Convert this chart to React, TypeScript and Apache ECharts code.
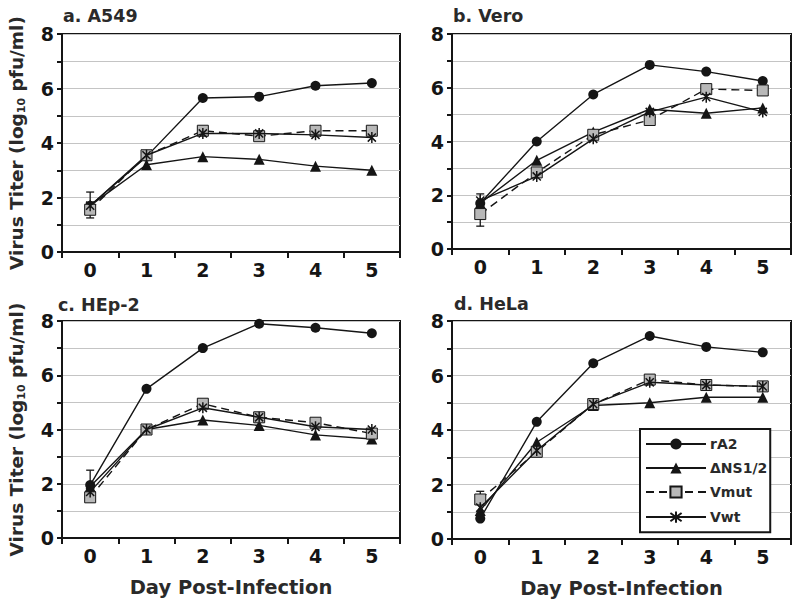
import React, { useEffect, useRef } from 'react';
import * as echarts from 'echarts';

const days = ['0', '1', '2', '3', '4', '5'];
const seriesNames = ['rA2', 'ΔNS1/2', 'Vmut', 'Vwt'];
const panelTitles = ['a. A549', 'b. Vero', 'c. HEp-2', 'd. HeLa'];

// a. A549
const a549_rA2 = [1.7, 3.5, 5.65, 5.7, 6.1, 6.2];
const a549_dNS = [1.7, 3.2, 3.5, 3.4, 3.15, 3.0];
const a549_Vmut = [1.55, 3.55, 4.45, 4.25, 4.45, 4.45];
const a549_Vwt = [1.7, 3.55, 4.35, 4.35, 4.3, 4.2];
const a549_err = [[0, 1.25, 2.2]];

// b. Vero
const vero_rA2 = [1.7, 4.0, 5.75, 6.85, 6.6, 6.25];
const vero_dNS = [1.7, 3.3, 4.35, 5.2, 5.05, 5.25];
const vero_Vmut = [1.3, 2.85, 4.25, 4.8, 5.95, 5.9];
const vero_Vwt = [1.8, 2.7, 4.1, 5.1, 5.65, 5.1];
const vero_err = [[0, 0.85, 2.05]];

// c. HEp-2
const hep2_rA2 = [1.95, 5.5, 7.0, 7.9, 7.75, 7.55];
const hep2_dNS = [1.9, 4.0, 4.35, 4.15, 3.8, 3.65];
const hep2_Vmut = [1.5, 4.0, 4.95, 4.45, 4.25, 3.85];
const hep2_Vwt = [1.7, 4.0, 4.8, 4.45, 4.1, 4.0];
const hep2_err = [[0, 1.9, 2.5]];

// d. HeLa
const hela_rA2 = [0.75, 4.3, 6.45, 7.45, 7.05, 6.85];
const hela_dNS = [1.05, 3.55, 4.9, 5.0, 5.2, 5.2];
const hela_Vmut = [1.45, 3.2, 4.95, 5.85, 5.65, 5.6];
const hela_Vwt = [1.15, 3.25, 4.95, 5.75, 5.65, 5.6];
const hela_err = [[0, 1.45, 1.75]];

const panels = [
  { data: [a549_rA2, a549_dNS, a549_Vmut, a549_Vwt], err: a549_err },
  { data: [vero_rA2, vero_dNS, vero_Vmut, vero_Vwt], err: vero_err },
  { data: [hep2_rA2, hep2_dNS, hep2_Vmut, hep2_Vwt], err: hep2_err },
  { data: [hela_rA2, hela_dNS, hela_Vmut, hela_Vwt], err: hela_err },
];

const FONT = '"DejaVu Sans", Verdana, sans-serif';
const INK = '#151515';
const TXT = '#2a2a2a';
const ASTERISK = 'path://M5,0L5,10M1.3,1.3L8.7,8.7M1.3,8.7L8.7,1.3';

const grids = [
  { left: 62, top: 34, width: 338, height: 218 },
  { left: 452, top: 34, width: 339, height: 215 },
  { left: 62, top: 321, width: 338, height: 217 },
  { left: 452, top: 321, width: 339, height: 218 },
];
const titlePos = [
  { left: 63, top: 7 },
  { left: 453, top: 7 },
  { left: 58, top: 296 },
  { left: 454, top: 295 },
];

const seriesStyles = [
  { symbol: 'circle', symbolSize: 10, itemStyle: { color: INK, borderColor: INK, borderWidth: 0 }, lineStyle: { color: INK, width: 1.4, type: 'solid' } },
  { symbol: 'triangle', symbolSize: 11, itemStyle: { color: INK, borderColor: INK, borderWidth: 0 }, lineStyle: { color: INK, width: 1.4, type: 'solid' } },
  { symbol: 'rect', symbolSize: 11, itemStyle: { color: '#b8b8b8', borderColor: INK, borderWidth: 1 }, lineStyle: { color: INK, width: 1.4, type: [8, 5] } },
  { symbol: ASTERISK, symbolSize: 11, itemStyle: { color: 'none', borderColor: INK, borderWidth: 1.5 }, lineStyle: { color: INK, width: 1.4, type: 'solid' } },
];

function buildOption() {
  const xAxis: any[] = [];
  const yAxis: any[] = [];
  const series: any[] = [];
  panels.forEach((p, i) => {
    xAxis.push({
      type: 'category',
      gridIndex: i,
      data: days,
      boundaryGap: true,
      axisLine: { lineStyle: { color: INK, width: 2 } },
      axisTick: { show: true, length: 6, lineStyle: { color: INK, width: 2 } },
      axisLabel: { color: INK, fontSize: 19, fontWeight: 'bold', fontFamily: FONT, margin: 8 },
      name: i >= 2 ? 'Day Post-Infection' : '',
      nameLocation: 'middle',
      nameGap: 39,
      nameTextStyle: { color: TXT, fontSize: 19.5, fontWeight: 'bold', fontFamily: FONT },
    });
    yAxis.push({
      type: 'value',
      gridIndex: i,
      min: 0,
      max: 8,
      interval: 1,
      axisLine: { show: true, lineStyle: { color: INK, width: 2 } },
      axisTick: { show: true, length: 5, lineStyle: { color: INK, width: 2 } },
      axisLabel: {
        color: INK, fontSize: 19, fontWeight: 'bold', fontFamily: FONT, margin: 8,
        formatter: (v: number) => (v % 2 === 0 ? String(v) : ''),
      },
      splitLine: { show: true, lineStyle: { color: '#c4c4c4', width: 1 } },
      name: i % 2 === 0 ? '{m|Virus Titer (log}{s|10}{m| pfu/ml)}' : '',
      nameLocation: 'middle',
      nameGap: 35,
      nameTextStyle: {
        color: TXT, fontFamily: FONT, fontWeight: 'bold', fontSize: 18.5,
        rich: {
          m: { fontSize: 18.5, fontWeight: 'bold', fontFamily: FONT, color: TXT, lineHeight: 22 },
          s: { fontSize: 11, fontWeight: 'bold', fontFamily: FONT, color: TXT, lineHeight: 12, verticalAlign: 'bottom' },
        },
      },
    });
    series.push({
      type: 'custom',
      name: 'err' + i,
      xAxisIndex: i,
      yAxisIndex: i,
      z: 1,
      data: p.err,
      encode: { x: 0, y: [1, 2] },
      renderItem: (params: any, api: any) => {
        const lo = api.coord([api.value(0), api.value(1)]);
        const hi = api.coord([api.value(0), api.value(2)]);
        const w = 4;
        const st = { stroke: INK, lineWidth: 1.3 };
        return {
          type: 'group',
          children: [
            { type: 'line', shape: { x1: lo[0], y1: lo[1], x2: hi[0], y2: hi[1] }, style: st },
            { type: 'line', shape: { x1: hi[0] - w, y1: hi[1], x2: hi[0] + w, y2: hi[1] }, style: st },
            { type: 'line', shape: { x1: lo[0] - w, y1: lo[1], x2: lo[0] + w, y2: lo[1] }, style: st },
          ],
        };
      },
    });
    p.data.forEach((vals, k) => {
      const s = seriesStyles[k];
      series.push({
        type: 'line',
        name: seriesNames[k],
        xAxisIndex: i,
        yAxisIndex: i,
        data: vals,
        symbol: s.symbol,
        symbolSize: s.symbolSize,
        symbolKeepAspect: true,
        showAllSymbol: true,
        itemStyle: s.itemStyle,
        lineStyle: s.lineStyle,
        z: 2 + k,
        emphasis: { disabled: true },
      });
    });
  });

  return {
    animation: false,
    backgroundColor: '#ffffff',
    title: panelTitles.map((t, i) => ({
      text: t,
      left: titlePos[i].left,
      top: titlePos[i].top,
      padding: 0,
      textStyle: { color: TXT, fontSize: 17.5, fontWeight: 'bold', fontFamily: FONT },
    })),
    grid: grids.map((g) => ({ ...g, show: true, borderColor: INK, borderWidth: 2, backgroundColor: 'transparent' })),
    legend: {
      data: seriesNames,
      orient: 'vertical',
      left: 640,
      top: 429,
      padding: [8, 3, 7, 5],
      itemWidth: 60,
      itemHeight: 14,
      itemGap: 10,
      borderColor: INK,
      borderWidth: 2,
      backgroundColor: '#ffffff',
      selectedMode: false,
      textStyle: { color: TXT, fontSize: 14, fontWeight: 'bold', fontFamily: FONT, padding: [0, 0, 0, -1] },
    },
    xAxis,
    yAxis,
    series,
  };
}

export default function App() {
  const ref = useRef<HTMLDivElement>(null);
  useEffect(() => {
    if (!ref.current) return;
    const chart = echarts.init(ref.current, null, { renderer: 'svg' });
    chart.setOption(buildOption() as any);
    return () => chart.dispose();
  }, []);
  return (
    <div
      ref={ref}
      style={{ position: 'fixed', left: 0, top: 0, width: 800, height: 601, background: '#fff' }}
    />
  );
}
